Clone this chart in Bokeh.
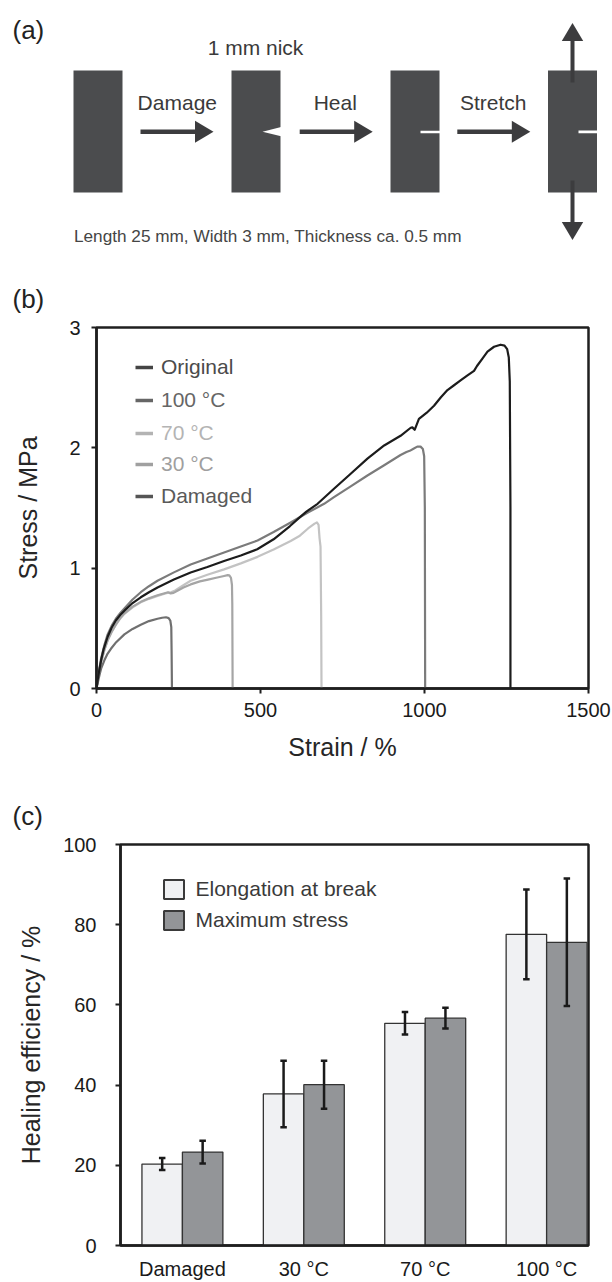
import math
from bokeh.plotting import figure
from bokeh.models import (Range1d, FixedTicker, Legend, LegendItem, Title,
                          Whisker, ColumnDataSource, TeeHead)
from bokeh.embed import file_html
from bokeh.resources import INLINE
from bokeh.core.properties import value

FONT = "Liberation Sans"
NAN = math.nan

# ---------------- data: panel (b) stress-strain curves ----------------
orig_strain = [0, 4, 9, 14, 22, 34, 46, 59, 72, 85, 110, 135, 160, 186, 236, 287, 338,
               389, 440, 490, 540, 590, 623, 640, 674, 724, 775, 826, 877, 927, 958,
               963, 970, 983, 1006, 1029, 1050, 1070, 1090, 1110, 1130, 1151, 1160,
               1176, 1192, 1212, 1232, 1244, 1252, 1257, 1260, 1262, 1262]
orig_stress = [0, 0.08, 0.16, 0.234, 0.33, 0.43, 0.505, 0.565, 0.61, 0.647, 0.71, 0.758,
               0.80, 0.84, 0.905, 0.964, 1.01, 1.06, 1.105, 1.157, 1.24, 1.35, 1.43,
               1.47, 1.535, 1.66, 1.785, 1.91, 2.02, 2.10, 2.167, 2.17, 2.15, 2.24, 2.29,
               2.35, 2.42, 2.48, 2.52, 2.56, 2.60, 2.64, 2.68, 2.74, 2.80, 2.84, 2.857,
               2.85, 2.82, 2.75, 2.55, 1.5, 0]

h100_strain = [0, 4, 9, 14, 24, 34, 46, 59, 72, 85, 110, 135, 160, 186, 236, 287, 338,
               389, 440, 491, 540, 592, 643, 694, 724, 775, 826, 877, 927, 945, 955,
               965, 978, 988, 995, 999, 1001, 1002]
h100_stress = [0, 0.08, 0.17, 0.25, 0.36, 0.45, 0.52, 0.58, 0.625, 0.665, 0.74, 0.80,
               0.85, 0.895, 0.965, 1.03, 1.08, 1.13, 1.18, 1.23, 1.30, 1.38, 1.46,
               1.535, 1.59, 1.68, 1.77, 1.855, 1.94, 1.965, 1.975, 1.99, 2.01, 2.01,
               1.99, 1.93, 1.5, 0]

h70_strain = [0, 4, 9, 14, 24, 34, 46, 59, 72, 85, 110, 135, 160, 186, 210, 227, 240,
              260, 287, 338, 389, 440, 491, 540, 592, 620, 645, 665, 672, 677, 680, 683,
              685, 686]
h70_stress = [0, 0.08, 0.155, 0.22, 0.32, 0.40, 0.47, 0.53, 0.58, 0.62, 0.675, 0.716,
              0.745, 0.77, 0.79, 0.80, 0.815, 0.85, 0.895, 0.945, 0.99, 1.04, 1.094,
              1.155, 1.226, 1.27, 1.33, 1.37, 1.38, 1.36, 1.25, 1.18, 0.6, 0]

h30_strain = [0, 4, 9, 14, 24, 34, 46, 59, 72, 85, 110, 135, 160, 186, 205, 218, 226,
              235, 248, 265, 287, 315, 340, 365, 389, 400, 405, 410, 413, 414, 415]
h30_stress = [0, 0.08, 0.155, 0.22, 0.32, 0.40, 0.47, 0.53, 0.585, 0.625, 0.68, 0.72,
              0.75, 0.775, 0.79, 0.80, 0.79, 0.795, 0.815, 0.84, 0.865, 0.89, 0.905,
              0.92, 0.935, 0.942, 0.94, 0.92, 0.86, 0.7, 0]

dmg_strain = [0, 4, 9, 14, 24, 34, 44, 60, 85, 110, 135, 160, 186, 200, 212, 220, 225,
              228, 229, 230]
dmg_stress = [0, 0.05, 0.11, 0.165, 0.234, 0.29, 0.33, 0.385, 0.45, 0.495, 0.53, 0.56,
              0.58, 0.588, 0.592, 0.585, 0.565, 0.51, 0.3, 0]

curve_names = ["Original", "100 °C", "70 °C", "30 °C", "Damaged"]
strain_ticks = [0, 500, 1000, 1500]
stress_ticks = [0, 1, 2, 3]

# ---------------- data: panel (c) healing efficiency ----------------
conditions = ["Damaged", "30 °C", "70 °C", "100 °C"]
elong_eff = [20.3, 37.8, 55.4, 77.6]
elong_err = [1.5, 8.3, 2.8, 11.2]
stress_eff = [23.3, 40.1, 56.7, 75.6]
stress_err = [2.85, 6.0, 2.6, 15.9]
eff_ticks = [0, 20, 40, 60, 80, 100]
series_names = ["Elongation at break", "Maximum stress"]

# ---------------- panel (a) texts ----------------
step_labels = ["Damage", "Heal", "Stretch"]
nick_label = "1 mm nick"
spec_label = "Length 25 mm, Width 3 mm, Thickness ca. 0.5 mm"

# ======================= styles / layout =======================
TICK_C = "#1a1a1a"
TITLE_C = "#262626"
SPEC_C = "#4b4c4e"
ARROW_C = "#3c3c3e"
PAGE_W = 612

# ---------- panel (a): schematic (pixel-like drawing coordinates) ----------
pa = figure(width=PAGE_W, height=272, x_range=Range1d(0, PAGE_W), y_range=Range1d(272, 0),
            output_backend="svg", toolbar_location=None, x_axis_location=None,
            y_axis_location=None, min_border=0, outline_line_color=None)
pa.grid.visible = False

spec_left = [73, 231, 390, 547.5]
spec_w = 49
pa.quad(left=spec_left, right=[v + spec_w for v in spec_left], top=70, bottom=192,
        fill_color=SPEC_C, line_color=None)
pa.patch(x=[280.6, 262, 280.6], y=[126.6, 131.2, 135.8], fill_color="white", line_color=None)
pa.quad(left=[420, 578], right=[439.6, 597], top=[130.2, 130.0], bottom=[132.8, 132.8],
        fill_color="white", line_color=None)
arrow_x0 = [140, 299.2, 456.8]
pa.quad(left=arrow_x0, right=[v + 56 for v in arrow_x0], top=129, bottom=133.4,
        fill_color=ARROW_C, line_color=None)
pa.patches(xs=[[v + 54.5, v + 73, v + 54.5] for v in arrow_x0],
           ys=[[120.2, 131.2, 142.2]] * 3, fill_color=ARROW_C, line_color=None)
pa.quad(left=[570, 570], right=[574, 574], top=[40, 180], bottom=[82, 222],
        fill_color=ARROW_C, line_color=None)
pa.patches(xs=[[561.3, 572, 582.7], [561.3, 572, 582.7]],
           ys=[[40.5, 22.5, 40.5], [221.5, 239.5, 221.5]], fill_color=ARROW_C, line_color=None)

pa.text(x=[176.8, 334.8, 492.7], y=[101.7] * 3, text=step_labels, text_align="center",
        text_baseline="alphabetic", text_font=value(FONT), text_font_size="21px",
        text_color="#3a3a3a")
pa.text(x=[255], y=[46.7], text=[nick_label], text_align="center", text_baseline="alphabetic",
        text_font=value(FONT), text_font_size="21px", text_color="#3a3a3a")
pa.text(x=[73.5], y=[235.5], text=[spec_label], text_align="left", text_baseline="alphabetic",
        text_font=value(FONT), text_font_size="17.2px", text_color="#454545")
pa.text(x=[12], y=[29.5], text=["(a)"], text_align="left", text_baseline="alphabetic",
        text_font=value(FONT), text_font_size="26px", text_color="#222222")


def style_axes(p, xlab, ylab, xstand, ystand, xtitle_stand, ytitle_stand,
               xtick_out, ytick_out):
    for ax in (p.xaxis[0], p.yaxis[0]):
        ax.axis_line_width = 2.5
        ax.axis_line_color = "#1f1f1f"
        ax.major_tick_line_width = 2
        ax.major_tick_line_color = "#1f1f1f"
        ax.major_tick_in = 0
        ax.minor_tick_line_color = None
        ax.major_label_text_font = FONT
        ax.major_label_text_font_size = "20px"
        ax.major_label_text_color = TICK_C
        ax.axis_label_text_font = FONT
        ax.axis_label_text_font_size = "25px"
        ax.axis_label_text_font_style = "normal"
        ax.axis_label_text_color = TITLE_C
    if xlab:
        p.xaxis[0].axis_label = xlab
    p.yaxis[0].axis_label = ylab
    p.xaxis[0].major_label_standoff = xstand
    p.yaxis[0].major_label_standoff = ystand
    p.xaxis[0].axis_label_standoff = xtitle_stand
    p.yaxis[0].axis_label_standoff = ytitle_stand
    p.xaxis[0].major_tick_out = xtick_out
    p.yaxis[0].major_tick_out = ytick_out
    p.grid.visible = False
    p.outline_line_color = "#1f1f1f"
    p.outline_line_width = 2.5
    p.outline_line_alpha = 1


def panel_title(text, offset):
    return Title(text=text, align="left", offset=offset, vertical_align="top", standoff=23,
                 text_font=FONT, text_font_size="26px", text_font_style="normal",
                 text_color="#222222")


# ---------- panel (b): stress-strain ----------
pb = figure(width=PAGE_W, height=517, x_range=Range1d(0, 1500), y_range=Range1d(0, 3),
            output_backend="svg", toolbar_location=None, min_border_left=96,
            min_border_right=24, min_border_top=54, min_border_bottom=101)
pb.add_layout(panel_title("(b)", -84), "above")
style_axes(pb, "Strain / %", "Stress / MPa", 9, 11, 13, 24, 5, 5)
pb.xaxis[0].ticker = FixedTicker(ticks=strain_ticks, minor_ticks=[])
pb.yaxis[0].ticker = FixedTicker(ticks=stress_ticks, minor_ticks=[])

curves = [(orig_strain, orig_stress), (h100_strain, h100_stress), (h70_strain, h70_stress),
          (h30_strain, h30_stress), (dmg_strain, dmg_stress)]
curve_colors = ["#1c1c1c", "#7b7b7b", "#c3c3c3", "#a5a5a5", "#707070"]
draw_order = [2, 3, 4, 1, 0]
for i in draw_order:
    xs, ys = curves[i]
    pb.line(xs, ys, line_color=curve_colors[i], line_width=2.2, line_join="round")

legend_line_colors = ["#444444", "#666666", "#b3b3b3", "#a0a0a0", "#555555"]
legend_text_colors = ["#4b4b4b", "#666666", "#b4b4b4", "#9f9f9f", "#5a5a5a"]
legend_rows_y = [321.3, 288.0, 255.3, 223.7, 192.0]
for name, lc, tc, ry in zip(curve_names, legend_line_colors, legend_text_colors, legend_rows_y):
    dummy = pb.line(x=[NAN], y=[NAN], line_color=lc, line_width=3.5)
    leg = Legend(items=[LegendItem(label=name, renderers=[dummy])], location=(39, ry - 12),
                 padding=0, margin=0, spacing=0, glyph_width=18, glyph_height=24,
                 label_height=24, label_standoff=8, border_line_color=None,
                 background_fill_alpha=0, label_text_font=FONT,
                 label_text_font_size="21px", label_text_color=tc)
    pb.add_layout(leg)

# ---------- panel (c): healing efficiency ----------
pc = figure(width=PAGE_W, height=493, x_range=Range1d(-0.51, 3.345), y_range=Range1d(0, 100),
            output_backend="svg", toolbar_location=None, min_border_left=120,
            min_border_right=24, min_border_top=54, min_border_bottom=35)
pc.add_layout(panel_title("(c)", -108), "above")
style_axes(pc, None, "Healing efficiency / %", 12, 19, 0, 15, 0, 5)
pc.xaxis[0].ticker = FixedTicker(ticks=list(range(len(conditions))), minor_ticks=[])
pc.xaxis[0].major_label_overrides = {i: c for i, c in enumerate(conditions)}
pc.yaxis[0].ticker = FixedTicker(ticks=eff_ticks, minor_ticks=[])

bar_w = 1 / 3
idx = list(range(len(conditions)))
x_el = [i - bar_w / 2 for i in idx]
x_st = [i + bar_w / 2 for i in idx]
LIGHT = "#f0f1f3"
DARK = "#939598"
pc.vbar(x=x_el, top=elong_eff, bottom=0, width=bar_w, fill_color=LIGHT,
        line_color="#333333", line_width=1.3)
pc.vbar(x=x_st, top=stress_eff, bottom=0, width=bar_w, fill_color=DARK,
        line_color="#333333", line_width=1.3)

err_src = ColumnDataSource(data=dict(
    base=x_el + x_st,
    upper=[v + e for v, e in zip(elong_eff + stress_eff, elong_err + stress_err)],
    lower=[v - e for v, e in zip(elong_eff + stress_eff, elong_err + stress_err)],
))
pc.add_layout(Whisker(base="base", upper="upper", lower="lower", source=err_src,
                      level="annotation", line_width=2.5, line_color="#1a1a1a",
                      upper_head=TeeHead(size=6.5, line_width=2.5, line_color="#1a1a1a"),
                      lower_head=TeeHead(size=6.5, line_width=2.5, line_color="#1a1a1a")))

d1 = pc.vbar(x=[NAN], top=[NAN], width=0.3, fill_color=LIGHT, line_color="#3a3a3a", line_width=2)
d2 = pc.vbar(x=[NAN], top=[NAN], width=0.3, fill_color=DARK, line_color="#3a3a3a", line_width=2)
pc.add_layout(Legend(items=[LegendItem(label=series_names[0], renderers=[d1]),
                            LegendItem(label=series_names[1], renderers=[d2])],
                     location=(40.5, 312.8), padding=0, margin=0, spacing=7,
                     glyph_width=25, glyph_height=24, label_height=24, label_standoff=10,
                     border_line_color=None, background_fill_alpha=0,
                     label_text_font=FONT, label_text_font_size="21px",
                     label_text_color="#3a3a3a"))

open("out.html", "w").write(file_html([pa, pb, pc], INLINE))
